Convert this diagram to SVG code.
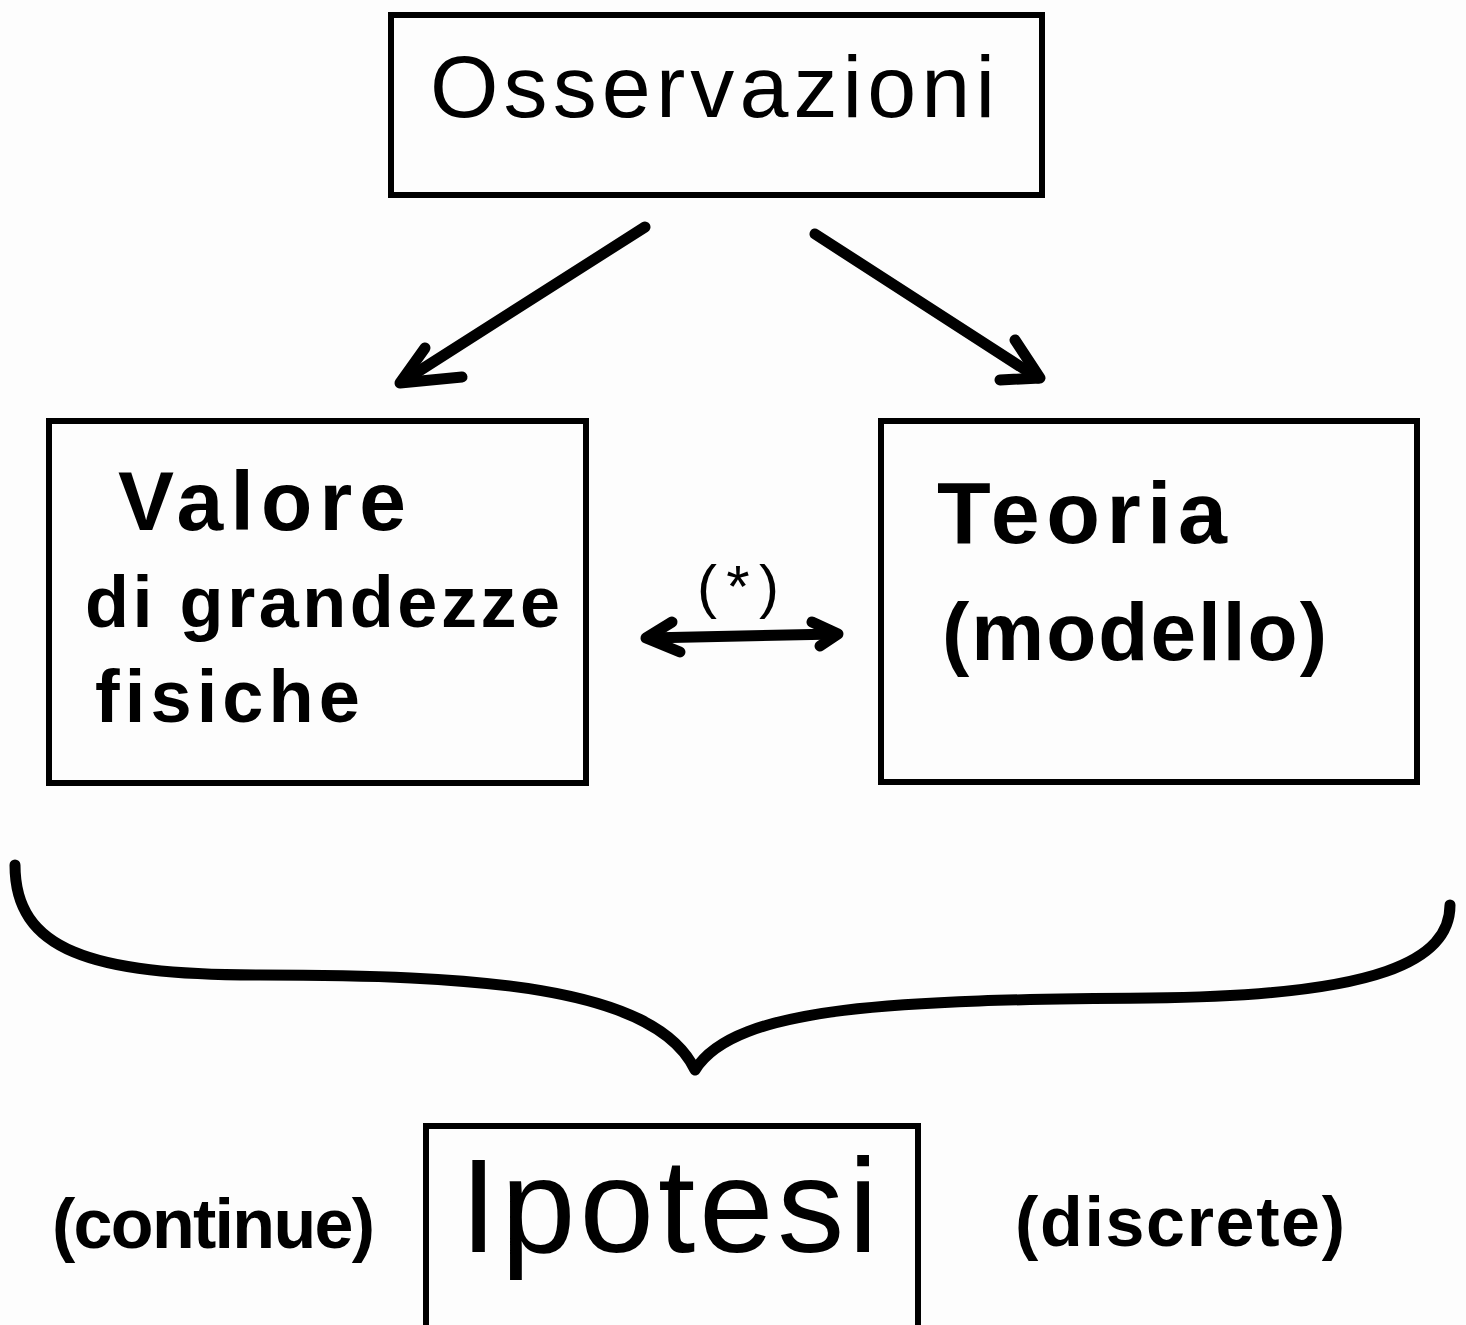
<svg xmlns="http://www.w3.org/2000/svg" width="1466" height="1325" viewBox="0 0 1466 1325">
<defs>
<style>
.box{fill:none;stroke:#000;stroke-width:6}
.conn{fill:none;stroke:#000;stroke-width:11;stroke-linecap:round;stroke-linejoin:round}
.txt{font-family:"Liberation Sans",Arial,sans-serif;fill:#000}
</style>
</defs>
<rect width="1466" height="1325" fill="#fdfdfd"/>
<g id="osservazioni">
<rect class="box" x="391" y="15" width="651" height="180"/>
<text class="txt" x="430" y="117" font-size="88" textLength="565" lengthAdjust="spacing">Osservazioni</text>
</g>
<g id="valore">
<rect class="box" x="49" y="421" width="537" height="362"/>
<text class="txt" x="118" y="530" font-size="84" font-weight="bold" textLength="288" lengthAdjust="spacing">Valore</text>
<text class="txt" x="85" y="627" font-size="72" font-weight="bold" textLength="475" lengthAdjust="spacing">di grandezze</text>
<text class="txt" x="95" y="722" font-size="74" font-weight="bold" textLength="265" lengthAdjust="spacing">fisiche</text>
</g>
<g id="teoria">
<rect class="box" x="881" y="421" width="536" height="361"/>
<text class="txt" x="937" y="543" font-size="88" font-weight="bold" textLength="290" lengthAdjust="spacing">Teoria</text>
<text class="txt" x="942" y="660" font-size="82" font-weight="bold" textLength="385" lengthAdjust="spacing">(modello)</text>
</g>
<g id="ipotesi">
<rect class="box" x="426" y="1126" width="492" height="205"/>
<text class="txt" x="460" y="1252" font-size="134" textLength="418" lengthAdjust="spacing">Ipotesi</text>
</g>
<g id="labels">
<text class="txt" x="52" y="1248" font-size="70" font-weight="bold" textLength="323" lengthAdjust="spacing">(continue)</text>
<text class="txt" x="1015" y="1246" font-size="70" font-weight="bold" textLength="330" lengthAdjust="spacing">(discrete)</text>
<text class="txt" x="697" y="607" font-size="60" textLength="82" lengthAdjust="spacing">(*)</text>
</g>
<g id="connectors">
<path class="conn" d="M645,227 L405,380"/>
<path class="conn" d="M425,348 L400,383 L462,377"/>
<path class="conn" d="M815,234 L1038,378"/>
<path class="conn" d="M1015,340 L1040,378 L1000,380"/>
<path class="conn" d="M648,638 L836,634"/>
<path class="conn" d="M672,622 L646,638 L680,652"/>
<path class="conn" d="M812,622 L838,634 L820,646"/>
<path class="conn" d="M15,865 C15,950 90,975 260,975 C470,975 655,985 695,1070 C735,1005 900,1000 1150,998 C1380,996 1450,960 1450,905"/>
</g>
</svg>
